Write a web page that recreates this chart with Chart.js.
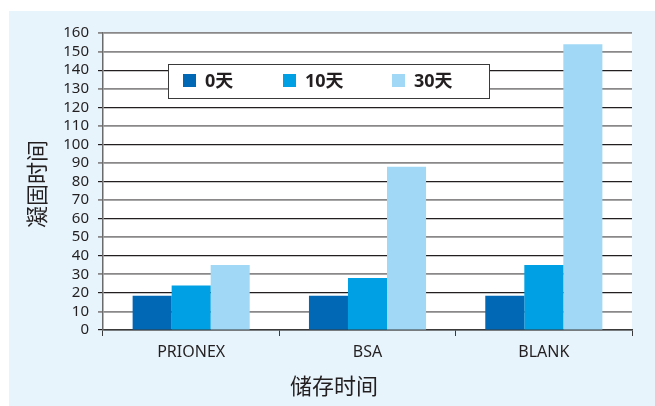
<!DOCTYPE html>
<html>
<head>
<meta charset="utf-8">
<script src="https://cdn.jsdelivr.net/npm/chart.js@4"></script>
<style>
  html, body { margin:0; padding:0; background:#fff; }
  #wrap { width:655px; height:406px; }
</style>
</head>
<body>
<div id="wrap"><canvas id="myChart" width="655" height="406"></canvas></div>
<script>
// ---- data ----
const categories = ['PRIONEX', 'BSA', 'BLANK'];
const seriesNames = ['0天', '10天', '30天'];
const day0  = [18.5, 18.5, 18.5];
const day10 = [24, 28, 35];
const day30 = [35, 88, 154];
const colors = ['#0068b5', '#00a0e4', '#a0d8f5'];

const TEXT = '#231f20';
const FONT = '"Noto Sans", "Noto Sans CJK SC", sans-serif';

// panel background, plot fill, legend box, axis titles
const decor = {
    id: 'decor',
    beforeDraw(chart) {
        const { ctx, chartArea: a } = chart;
        ctx.save();
        ctx.fillStyle = '#e8f4fc';
        ctx.fillRect(9, 11, 646, 395);
        ctx.fillStyle = '#ffffff';
        ctx.fillRect(a.left, a.top, a.right - a.left, a.bottom - a.top);
        ctx.restore();
    },
    afterDraw(chart) {
        const { ctx } = chart;
        ctx.save();
        // legend
        ctx.fillStyle = '#ffffff';
        ctx.fillRect(168, 64, 321, 34);
        ctx.strokeStyle = '#3a3a3a';
        ctx.lineWidth = 1;
        ctx.strokeRect(168.5, 64.5, 321, 34);
        const xs = [183, 283, 392];
        ctx.font = 'bold 18px ' + FONT;
        ctx.textBaseline = 'middle';
        ctx.textAlign = 'left';
        seriesNames.forEach((n, i) => {
            ctx.fillStyle = colors[i];
            ctx.fillRect(xs[i], 74, 13, 13);
            ctx.fillStyle = TEXT;
            ctx.fillText(n, xs[i] + 22, 82);
        });
        // axis titles
        ctx.font = '22px ' + FONT;
        ctx.textAlign = 'center';
        ctx.fillStyle = TEXT;
        ctx.fillText('储存时间', 334, 388);
        ctx.translate(39, 184);
        ctx.rotate(-Math.PI / 2);
        ctx.fillText('凝固时间', 0, 0);
        ctx.restore();
    }
};

new Chart(document.getElementById('myChart'), {
    type: 'bar',
    data: {
        labels: categories,
        datasets: [
            { label: seriesNames[0], data: day0,  backgroundColor: colors[0] },
            { label: seriesNames[1], data: day10, backgroundColor: colors[1] },
            { label: seriesNames[2], data: day30, backgroundColor: colors[2] }
        ]
    },
    options: {
        responsive: false,
        animation: false,
        layout: { padding: { top: 33, right: 23, left: 0, bottom: 0 } },
        datasets: { bar: { categoryPercentage: 0.664, barPercentage: 1.0 } },
        plugins: { legend: { display: false }, tooltip: { enabled: false } },
        scales: {
            x: {
                afterFit(s) { s.height = 76; },
                grid: {
                    offset: true,
                    drawOnChartArea: false,
                    color: '#3a3a3a',
                    tickLength: 6
                },
                border: { color: '#3a3a3a', width: 1.5 },
                ticks: {
                    color: TEXT,
                    font: { family: FONT, size: 16 },
                    padding: 7
                }
            },
            y: {
                min: 0,
                max: 160,
                afterFit(s) { s.width = 103; },
                ticks: {
                    stepSize: 10,
                    autoSkip: false,
                    color: TEXT,
                    font: { family: FONT, size: 15 },
                    padding: 9
                },
                grid: {
                    tickLength: 5,
                    lineWidth: c => (c.tick && c.tick.value % 20 === 0 && c.tick.value < 150) ? 1.2 : 1.8,
                    color: c => (c.tick && c.tick.value % 20 === 0 && c.tick.value < 150) ? '#231f20' : '#8a8889'
                },
                border: { color: '#6a6a6a', width: 1.5 }
            }
        }
    },
    plugins: [decor]
});
</script>
</body>
</html>
